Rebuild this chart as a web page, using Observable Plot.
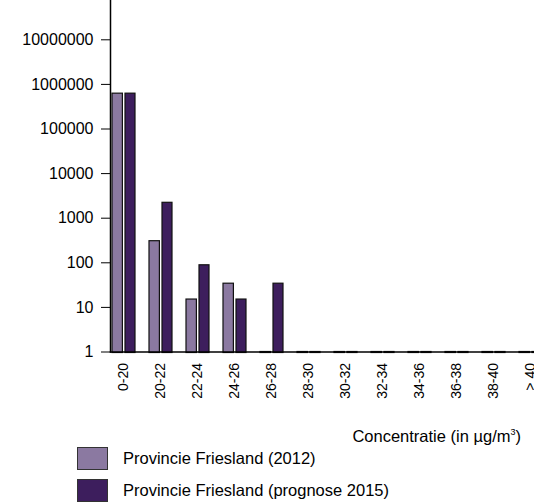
<!DOCTYPE html>
<html>
<head>
<meta charset="utf-8">
<script src="https://cdn.jsdelivr.net/npm/d3@7"></script>
<script src="https://cdn.jsdelivr.net/npm/@observablehq/plot@0.6"></script>
<style>
  html, body { margin: 0; padding: 0; background: #fff; }
  #wrap { position: relative; width: 534px; height: 504px; overflow: hidden; font-family: "Liberation Sans", Arial, sans-serif; color: #000; }
  #chart { position: absolute; left: 0; top: 0; }
  .atitle { position: absolute; right: 13px; top: 427px; font-size: 16.5px; white-space: nowrap; }
  .atitle sup { font-size: 9px; vertical-align: 0; position: relative; top: -7px; }
  .leg { position: absolute; left: 77px; height: 22px; display: flex; align-items: center; font-size: 16.5px; white-space: nowrap; }
  .sw { width: 29px; height: 21px; border: 1px solid #333; margin-right: 15px; box-sizing: content-box; }
</style>
</head>
<body>
<div id="wrap">
  <div id="chart"></div>
  <div class="atitle">Concentratie (in µg/m<sup>3</sup>)</div>
  <div class="leg" style="top:447px"><div class="sw" style="background:#8b79a1"></div>Provincie Friesland (2012)</div>
  <div class="leg" style="top:479px"><div class="sw" style="background:#3d1e5d"></div>Provincie Friesland (prognose 2015)</div>
</div>
<script>
const categories = ["0-20","20-22","22-24","24-26","26-28","28-30","30-32","32-34","34-36","36-38","38-40","> 40"];
const values2012 = [620000, 305, 15, 34, 1, 1, 1, 1, 1, 1, 1, 1];
const values2015 = [620000, 2215, 88, 15, 34, 1, 1, 1, 1, 1, 1, 1];
const yTicks = [1, 10, 100, 1000, 10000, 100000, 1000000, 10000000, 100000000];
const colors = {light: "#8b79a1", dark: "#3d1e5d"};

const table = categories.map((c, i) => ({cat: c, v2012: values2012[i], v2015: values2015[i]}));

const chart = Plot.plot({
  width: 534,
  height: 400,
  marginLeft: 110,
  marginRight: 0,
  marginTop: 0,
  marginBottom: 48.5,
  style: {fontFamily: "'Liberation Sans', Arial, sans-serif", fontSize: "16px", color: "#000", background: "white"},
  x: {type: "band", domain: categories, range: [109.5, 544.8], paddingInner: 0.38, paddingOuter: 0.03, label: null},
  y: {type: "log", domain: [1, 1e8], range: [351.5, -5.3], label: null},
  marks: [
    Plot.barY(table, {x: "cat", y1: d => 1, y2: "v2012", fill: colors.light, stroke: "#111", strokeWidth: 1.2, insetRight: 12.6, insetBottom: -1}),
    Plot.barY(table, {x: "cat", y1: d => 1, y2: "v2015", fill: colors.dark, stroke: "#111", strokeWidth: 1.2, insetLeft: 13, insetBottom: -1}),
    Plot.frame({anchor: "left", stroke: "#000", strokeWidth: 1.5}),
    Plot.frame({anchor: "bottom", stroke: "#000", strokeWidth: 1.5}),
    Plot.axisY({ticks: yTicks, tickFormat: d3.format("d"), tickSize: 9, tickPadding: 8, fontSize: 16, label: null, stroke: "#000"}),
    Plot.axisX({tickSize: 0, tickPadding: 11, tickRotate: -90, fontSize: 14, label: null})
  ]
});
document.getElementById("chart").appendChild(chart);
</script>
</body>
</html>
